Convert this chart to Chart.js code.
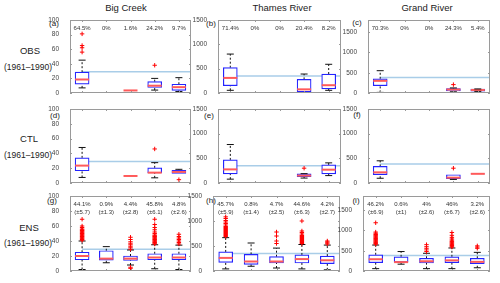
<!DOCTYPE html>
<html>
<head>
<meta charset="utf-8">
<script src="https://cdn.jsdelivr.net/npm/chart.js@4.4.1/dist/chart.umd.min.js"></script>
<style>
body { margin: 0; width: 500px; height: 283px; background: #fff; position: relative; overflow: hidden; font-family: "Liberation Sans", Arial, sans-serif; }
.t { position: absolute; color: #222; white-space: nowrap; transform: translate(-50%, -50%); }
canvas { position: absolute; }
</style>
</head>
<body>
<div class="t" style="left:126px;top:7px;font-size:9.5px">Big Creek</div>
<div class="t" style="left:282px;top:7px;font-size:9.5px">Thames River</div>
<div class="t" style="left:427px;top:7px;font-size:9.5px">Grand River</div>

<div class="t" style="left:30px;top:50px;font-size:9.5px">OBS</div>
<div class="t" style="left:28px;top:67px;font-size:8.5px">(1961–1990)</div>
<div class="t" style="left:29px;top:138px;font-size:9.5px">CTL</div>
<div class="t" style="left:28px;top:155px;font-size:8.5px">(1961–1990)</div>
<div class="t" style="left:29px;top:227px;font-size:9.5px">ENS</div>
<div class="t" style="left:28px;top:243px;font-size:8.5px">(1961–1990)</div>

<div class="t" style="left:54px;top:23px;font-size:8px">(a)</div>
<div class="t" style="left:211px;top:23px;font-size:8px">(b)</div>
<div class="t" style="left:357px;top:22px;font-size:8px">(c)</div>
<div class="t" style="left:55px;top:115px;font-size:8px">(d)</div>
<div class="t" style="left:209px;top:115px;font-size:8px">(e)</div>
<div class="t" style="left:357px;top:114px;font-size:8px">(f)</div>
<div class="t" style="left:52px;top:200px;font-size:8px">(g)</div>
<div class="t" style="left:211px;top:200px;font-size:8px">(h)</div>
<div class="t" style="left:356px;top:200px;font-size:8px">(i)</div>

<script>
// five flow classes on the x axis (no labels shown)
const classes = [1, 2, 3, 4, 5];

// y tick values
const bigTicks = [0, 20, 40, 60, 80, 100];
const flowTicks = [0, 500, 1000, 1500];

// box stats per class: [whisker low, q1, median, q3, whisker high]
// Big Creek
const obsBig = [[7, 12, 18.5, 28.5, 45], null, [3.5, 3.5, 3.5, 3.5, 3.5], [4, 7.5, 10, 15.5, 20], [2, 3.5, 8, 12, 21]];
const obsBigOut = [[56, 62, 65, 81], [], [], [38], []];
const obsBigPct = ['64.5%', '0%', '1.6%', '24.2%', '9.7%'];
const ctlBig = [[7.5, 16.5, 23.5, 34, 48], null, [9.5, 9.5, 9.5, 9.5, 9.5], [7, 13.5, 14, 20.5, 27.5], [13, 13, 15, 17, 18.5]];
const ctlBigOut = [[], [], [], [46], [4.5]];
const ensBig = [[2, 15, 20, 25, 40], [11, 14.5, 16.5, 27, 32.5], [8, 14, 16.5, 20, 28], [3, 15, 18, 23, 35], [2, 15, 18, 23, 34.5]];
const ensBigOut = [
    [41, 42, 43, 44, 45, 46, 47, 48, 49, 50, 51, 52, 53, 54, 55, 56, 58, 60, 69],
    [],
    [3.5, 5, 29, 31, 33, 35, 37, 39, 42, 45],
    [36, 37, 38, 39, 40, 41, 42, 43, 44, 45, 46, 47, 48, 50, 52, 55, 58, 62, 69],
    [36, 38, 40, 42, 44, 46, 49]
];
const ensBigPct = ['44.1%', '0.9%', '4.4%', '45.8%', '4.8%'];
const ensBigSd = ['(±5.7)', '(±1.3)', '(±2.8)', '(±6.1)', '(±2.6)'];
const refBig = 29;

// Thames River
const obsThames = [[55, 150, 310, 520, 800], null, null, [10, 25, 75, 280, 390], [55, 85, 160, 390, 590]];
const obsThamesOut = [[], [], [], [], []];
const obsThamesPct = ['71.4%', '0%', '0%', '20.4%', '8.2%'];
const ctlThames = [[78, 186, 276, 468, 780], null, null, [100, 126, 150, 186, 190], [150, 186, 270, 366, 408]];
const ctlThamesOut = [[], [], [], [300], []];
const ensThames = [[42, 173, 262, 381, 667], [95, 131, 190, 333, 560], [60, 160, 190, 286, 458], [42, 160, 238, 321, 530], [24, 149, 214, 298, 518]];
const ensThamesOut = [
    [690, 710, 730, 750, 770, 790, 810, 830, 850, 870, 890, 920, 950, 980, 1010, 1050, 1083],
    [],
    [550, 600, 700, 780],
    [550, 570, 590, 610, 630, 650, 670, 690, 710, 740, 770, 800, 1000],
    [540, 560, 580, 600]
];
const ensThamesPct = ['45.7%', '0.8%', '4.7%', '44.6%', '4.2%'];
const ensThamesSd = ['(±5.9)', '(±1.4)', '(±2.5)', '(±6.3)', '(±2.7)'];
const refThames = 350;

// Grand River
const obsGrand = [[15, 180, 300, 350, 550], null, null, [30, 50, 86, 107, 125], [40, 45, 75, 95, 100]];
const obsGrandOut = [[], [], [], [207], []];
const obsGrandPct = ['70.3%', '0%', '0%', '24.3%', '5.4%'];
const ctlGrand = [[96, 168, 216, 336, 450], null, null, [72, 90, 108, 168, 168], [184, 184, 186, 188, 188]];
const ctlGrandOut = [[], [], [], [300], []];
const ensGrand = [[58, 204, 290, 400, 640], [168, 219, 219, 350, 480], [58, 197, 240, 313, 437], [58, 204, 262, 350, 568], [80, 182, 226, 313, 460]];
const ensGrandOut = [
    [660, 680, 700, 720, 740, 760, 780, 800, 820, 840, 860, 880, 900, 930, 960, 1190],
    [],
    [480, 520, 560, 600, 650],
    [590, 610, 630, 650, 670, 690, 710, 730, 760, 790, 830, 880, 950],
    [560, 590, 620]
];
const ensGrandPct = ['46.2%', '0.6%', '4%', '46%', '3.2%'];
const ensGrandSd = ['(±6.9)', '(±1)', '(±2.6)', '(±6.7)', '(±2.6)'];
const refGrand = 383;

const FONT = '"Liberation Sans", Arial, sans-serif';
const PAD_L = 30, PAD = 4;

function makePanel(rect, yMax, yTicks, stats, outs, ref, pct, sd) {
    const [left, top, w, h] = rect;
    const cv = document.createElement('canvas');
    cv.width = w + PAD_L + PAD;
    cv.height = h + 2 * PAD;
    cv.style.left = (left - PAD_L) + 'px';
    cv.style.top = (top - PAD) + 'px';
    document.body.appendChild(cv);

    const barW = 14;
    const boxes = [], medians = [], whisk = [], caps = [], outliers = [];
    stats.forEach((s, i) => {
        if (!s) return;
        const x = classes[i];
        const [lo, q1, med, q3, hi] = s;
        if (q3 > q1) boxes.push({ x: x, y: [q1, q3] });
        medians.push({ x: x, y: med });
        if (lo < q1) { whisk.push({ x: x, y: lo }, { x: x, y: q1 }, { x: x, y: null }); caps.push({ x: x, y: lo }); }
        if (hi > q3) { whisk.push({ x: x, y: q3 }, { x: x, y: hi }, { x: x, y: null }); caps.push({ x: x, y: hi }); }
    });
    outs.forEach((list, i) => list.forEach(v => outliers.push({ x: classes[i], y: v })));

    // frame, inside tick marks and the percentage labels
    const decor = {
        id: 'decor',
        afterDatasetsDraw(chart) {
            const { ctx, chartArea: a, scales: { x, y } } = chart;
            ctx.save();
            ctx.strokeStyle = '#9a9a9a';
            ctx.lineWidth = 1;
            ctx.strokeRect(a.left + 0.5, a.top + 0.5, a.right - a.left - 1, a.bottom - a.top - 1);
            ctx.beginPath();
            classes.forEach(c => {
                const px = Math.round(x.getPixelForValue(c)) + 0.5;
                ctx.moveTo(px, a.top); ctx.lineTo(px, a.top + 2);
                ctx.moveTo(px, a.bottom); ctx.lineTo(px, a.bottom - 2);
            });
            y.ticks.forEach(t => {
                const py = Math.round(y.getPixelForValue(t.value)) + 0.5;
                ctx.moveTo(a.left, py); ctx.lineTo(a.left + 2, py);
                ctx.moveTo(a.right, py); ctx.lineTo(a.right - 2, py);
            });
            ctx.stroke();
            if (pct) {
                ctx.fillStyle = '#333';
                ctx.font = '6px ' + FONT;
                ctx.textAlign = 'center';
                ctx.textBaseline = 'middle';
                classes.forEach((c, i) => {
                    const px = x.getPixelForValue(c);
                    ctx.fillText(pct[i], px, a.top + 8);
                    if (sd) ctx.fillText(sd[i], px, a.top + 16);
                });
            }
            ctx.restore();
        }
    };

    new Chart(cv, {
        type: 'bar',
        data: {
            datasets: [
                { type: 'line', data: [{ x: 1, y: ref }, { x: 5.5, y: ref }], borderColor: '#a9cde8', borderWidth: 1.5, pointRadius: 0, order: 6 },
                { type: 'line', data: whisk, borderColor: '#111', borderWidth: 1, borderDash: [2, 2], pointRadius: 0, spanGaps: false, order: 5 },
                { type: 'bar', data: boxes, backgroundColor: '#fff', borderColor: '#2323ff', borderWidth: 1.2, borderSkipped: false, barThickness: barW, order: 4 },
                { type: 'scatter', data: medians, pointStyle: 'line', pointRadius: barW / 2, pointBorderColor: '#ff5a5a', borderColor: '#ff5a5a', pointBorderWidth: 2, order: 3 },
                { type: 'scatter', data: caps, pointStyle: 'line', pointRadius: 3.5, pointBorderColor: '#111', borderColor: '#111', pointBorderWidth: 1, order: 2 },
                { type: 'scatter', data: outliers, pointStyle: 'cross', pointRadius: 2.2, pointBorderColor: '#ff0000', borderColor: '#ff0000', pointBorderWidth: 1, order: 1 }
            ]
        },
        options: {
            responsive: false,
            animation: false,
            events: [],
            devicePixelRatio: 1,
            layout: { padding: { left: 0, right: PAD, top: PAD, bottom: PAD } },
            plugins: { legend: { display: false }, tooltip: { enabled: false } },
            scales: {
                x: { type: 'linear', display: false, min: 0.5, max: 5.5, offset: false },
                y: {
                    min: 0, max: yMax,
                    border: { display: false },
                    grid: { display: false },
                    afterBuildTicks(s) { s.ticks = yTicks.map(v => ({ value: v })); },
                    ticks: { color: '#444', padding: 3, font: { size: 6.5, family: FONT }, callback: v => String(v) },
                    afterFit(s) { s.width = PAD_L; }
                }
            }
        },
        plugins: [decor]
    });
}

// [plot left, plot top, plot width, plot height]
makePanel([70, 15, 126, 83], 100, bigTicks, obsBig, obsBigOut, refBig, obsBigPct, null);
makePanel([218, 15, 128, 83], 1500, flowTicks, obsThames, obsThamesOut, refThames, obsThamesPct, null);
makePanel([368, 15, 127, 83], 1800, flowTicks, obsGrand, obsGrandOut, refGrand, obsGrandPct, null);

makePanel([70, 104, 126, 84], 100, bigTicks, ctlBig, ctlBigOut, refBig, null, null);
makePanel([218, 104, 128, 84], 1500, flowTicks, ctlThames, ctlThamesOut, refThames, null, null);
makePanel([368, 104, 127, 84], 1500, flowTicks, ctlGrand, ctlGrandOut, refGrand, null, null);

makePanel([70, 191, 126, 85], 100, bigTicks, ensBig, ensBigOut, refBig, ensBigPct, ensBigSd);
makePanel([213, 191, 132, 85], 1500, flowTicks, ensThames, ensThamesOut, refThames, ensThamesPct, ensThamesSd);
makePanel([363, 191, 132, 85], 1850, flowTicks, ensGrand, ensGrandOut, refGrand, ensGrandPct, ensGrandSd);
</script>
</body>
</html>
